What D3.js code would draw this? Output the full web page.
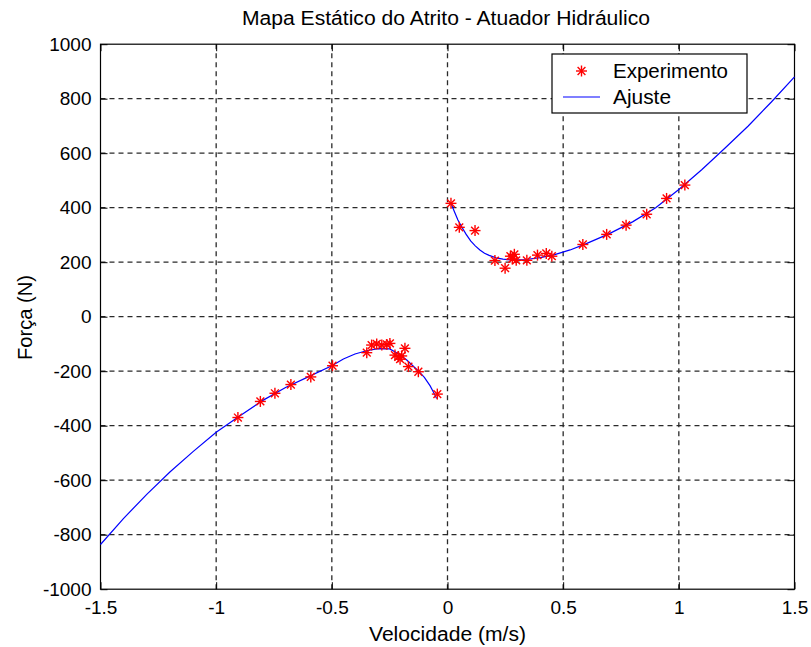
<!DOCTYPE html>
<html><head><meta charset="utf-8">
<script src="https://cdn.jsdelivr.net/npm/d3@7"></script>
<style>
body{margin:0;background:#fff;}
svg text{font-family:"Liberation Sans",Arial,sans-serif;fill:#000;}
</style></head><body>
<svg id="c" width="811" height="647"></svg>
<script>
// Experimental points
const expX = [-0.906,-0.809,-0.746,-0.677,-0.591,-0.497,-0.349,-0.328,-0.306,-0.284,-0.262,-0.249,-0.227,-0.213,-0.205,-0.198,-0.184,-0.169,-0.126,-0.044,
              0.015,0.051,0.119,0.205,0.249,0.272,0.280,0.289,0.297,0.343,0.389,0.427,0.451,0.585,0.688,0.772,0.861,0.947,1.026];
const expY = [-370,-311,-281,-249,-221,-180,-132,-104,-100,-104,-102,-98,-141,-147,-156,-144,-116,-183,-202,-284,
              416,328,316,206,178,222,212,229,207,207,226,232,222,265,302,336,376,434,483];
// Fitted curve (negative velocity branch)
const fitNegX = [-1.5,-1.4,-1.3,-1.2,-1.1,-1.0,-0.9,-0.8,-0.7,-0.6,-0.5,-0.45,-0.4,-0.35,-0.3,-0.25,-0.22,-0.2,-0.175,-0.15,-0.125,-0.1,-0.075,-0.06,-0.047];
const fitNegY = [-836,-740,-652,-570,-495,-424,-365,-308,-260,-220,-180,-155,-137,-125,-117,-118,-132,-143,-160,-180,-200,-223,-254,-278,-300];
// Fitted curve (positive velocity branch)
const fitPosX = [0.015,0.03,0.045,0.06,0.08,0.1,0.12,0.14,0.16,0.18,0.21,0.24,0.28,0.34,0.4,0.46,0.53,0.6,0.7,0.8,0.9,1.0,1.1,1.2,1.3,1.4,1.5];
const fitPosY = [416,385,355,332,303,278,260,245,233,225,216,211,208,210,217,227,245,268,305,348,400,467,540,619,700,788,880];
const xTicks = [-1.5,-1,-0.5,0,0.5,1,1.5];
const yTicks = [-1000,-800,-600,-400,-200,0,200,400,600,800,1000];

const svg = d3.select("#c");
const L=100.5, R=794.5, T=44.2, B=589.2;
const x = d3.scaleLinear().domain([-1.5,1.5]).range([L,R]);
const y = d3.scaleLinear().domain([-1000,1000]).range([B,T]);

// grid
const g = svg.append("g");
g.selectAll(".gx").data(xTicks.slice(1,-1)).enter().append("line")
 .attr("x1",d=>x(d)).attr("x2",d=>x(d)).attr("y1",T).attr("y2",B)
 .attr("stroke","#2a2a2a").attr("stroke-width",1.3).attr("stroke-dasharray","5,4");
g.selectAll(".gy").data(yTicks.slice(1,-1)).enter().append("line")
 .attr("y1",d=>y(d)).attr("y2",d=>y(d)).attr("x1",L).attr("x2",R)
 .attr("stroke","#2a2a2a").attr("stroke-width",1.3).attr("stroke-dasharray","5,4");

// axes (ticks inward)
const fmt = d=>String(d);
svg.append("g").attr("transform",`translate(0,${B})`)
 .call(d3.axisBottom(x).tickValues(xTicks).tickFormat(fmt).tickSizeInner(-7).tickSizeOuter(0).tickPadding(11))
 .call(a=>{a.select(".domain").remove();a.selectAll("text").attr("font-size",19).attr("font-family","Liberation Sans, Arial");a.selectAll("line").attr("stroke","#000");});
svg.append("g").attr("transform",`translate(0,${T})`)
 .call(d3.axisTop(x).tickValues(xTicks).tickFormat("").tickSizeInner(-7).tickSizeOuter(0))
 .call(a=>{a.select(".domain").remove();a.selectAll("line").attr("stroke","#000");});
svg.append("g").attr("transform",`translate(${L},0)`)
 .call(d3.axisLeft(y).tickValues(yTicks).tickFormat(fmt).tickSizeInner(-7).tickSizeOuter(0).tickPadding(9))
 .call(a=>{a.select(".domain").remove();a.selectAll("text").attr("font-size",19).attr("font-family","Liberation Sans, Arial");a.selectAll("line").attr("stroke","#000");});
svg.append("g").attr("transform",`translate(${R},0)`)
 .call(d3.axisRight(y).tickValues(yTicks).tickFormat("").tickSizeInner(-7).tickSizeOuter(0))
 .call(a=>{a.select(".domain").remove();a.selectAll("line").attr("stroke","#000");});
svg.append("rect").attr("x",L).attr("y",T).attr("width",R-L).attr("height",B-T)
 .attr("fill","none").attr("stroke","#000").attr("stroke-width",1.2);

// fit curves
const line = d3.line().x(d=>x(d[0])).y(d=>y(d[1]));
svg.append("path").datum(fitNegX.map((v,i)=>[v,fitNegY[i]])).attr("d",line)
 .attr("fill","none").attr("stroke","#0000ff").attr("stroke-width",1.2);
svg.append("path").datum(fitPosX.map((v,i)=>[v,fitPosY[i]])).attr("d",line)
 .attr("fill","none").attr("stroke","#0000ff").attr("stroke-width",1.2);

// star markers
function star(sel, cx, cy){
  const s=5.5, d=3.9;
  const gg = sel.append("g").attr("stroke","#ff0000").attr("stroke-width",1.4);
  gg.append("line").attr("x1",cx-s).attr("x2",cx+s).attr("y1",cy).attr("y2",cy);
  gg.append("line").attr("x1",cx).attr("x2",cx).attr("y1",cy-s).attr("y2",cy+s);
  gg.append("line").attr("x1",cx-d).attr("x2",cx+d).attr("y1",cy-d).attr("y2",cy+d);
  gg.append("line").attr("x1",cx-d).attr("x2",cx+d).attr("y1",cy+d).attr("y2",cy-d);
}
const mk = svg.append("g");
expX.forEach((v,i)=>star(mk, x(v), y(expY[i])));

// title & labels
svg.append("text").attr("x",446).attr("y",25).attr("text-anchor","middle").attr("font-size",19.5)
 .attr("textLength",408).attr("lengthAdjust","spacingAndGlyphs")
 .text("Mapa Estático do Atrito - Atuador Hidráulico");
svg.append("text").attr("x",447.5).attr("y",641).attr("text-anchor","middle").attr("font-size",19.5)
 .attr("textLength",157).attr("lengthAdjust","spacingAndGlyphs")
 .text("Velocidade (m/s)");
svg.append("text").attr("transform",`translate(32,317.5) rotate(-90)`).attr("text-anchor","middle").attr("font-size",19.5)
 .attr("textLength",85).attr("lengthAdjust","spacingAndGlyphs")
 .text("Força (N)");

// legend
const lg = svg.append("g");
lg.append("rect").attr("x",552).attr("y",54).attr("width",195).attr("height",59)
 .attr("fill","#fff").attr("stroke","#000").attr("stroke-width",1.2);
star(lg, 581.5, 71);
lg.append("line").attr("x1",563).attr("x2",600).attr("y1",97).attr("y2",97).attr("stroke","#0000ff").attr("stroke-width",1.2);
lg.append("text").attr("x",613).attr("y",78).attr("font-size",19.5)
 .attr("textLength",115).attr("lengthAdjust","spacingAndGlyphs").text("Experimento");
lg.append("text").attr("x",613).attr("y",104).attr("font-size",19.5)
 .attr("textLength",58).attr("lengthAdjust","spacingAndGlyphs").text("Ajuste");
</script>
</body></html>
